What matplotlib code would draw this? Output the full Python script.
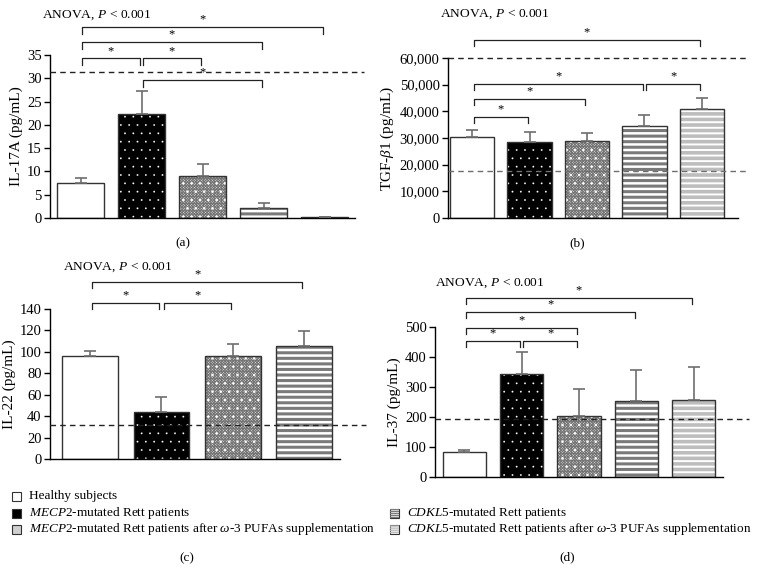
import numpy as np
import matplotlib
matplotlib.use('Agg')
import matplotlib.pyplot as plt
from matplotlib.patches import Rectangle
from matplotlib.ticker import FuncFormatter

plt.rcParams['font.family'] = ['Liberation Serif', 'DejaVu Serif']
plt.rcParams['mathtext.fontset'] = 'custom'
plt.rcParams['mathtext.rm'] = 'Liberation Serif'
plt.rcParams['mathtext.it'] = 'Liberation Serif:italic'
plt.rcParams['hatch.linewidth'] = 0.8

# data
groups = ['Healthy', 'MECP2', 'MECP2 + w3', 'CDKL5', 'CDKL5 + w3']

il17_mean = [7.45, 22.3, 9.0, 2.1, 0.2]
il17_err = [1.05, 5.0, 2.7, 1.05, 0.1]
il17_ref = [31.3]
il17_sig = [(0, 4, 41.0), (0, 3, 37.8), (0, 1, 34.3), (1, 2, 34.3), (1, 3, 29.6)]

tgf_mean = [30300, 28600, 29000, 34500, 41000]
tgf_err = [2800, 3700, 2700, 4100, 4100]
tgf_ref = [60000, 17500]
tgf_sig = [(0, 4, 66700), (0, 3, 50300), (3, 4, 50300), (0, 2, 44600), (0, 1, 37900)]

il22_groups = [0, 1, 2, 3]
il22_mean = [96, 44, 96, 105.5]
il22_err = [5, 14, 11.5, 14]
il22_ref = [32]
il22_sig = [(0, 3, 165), (0, 1, 145.6), (1, 2, 145.6)]

il37_mean = [82, 342, 205, 255, 258]
il37_err = [8, 75, 88, 103, 108]
il37_ref = [195]
il37_sig = [(0, 4, 597), (0, 3, 550), (0, 2, 497), (0, 1, 453), (1, 2, 453)]

legend_labels = [
    'Healthy subjects',
    r'$\it{MECP2}$-mutated Rett patients',
    r'$\it{MECP2}$-mutated Rett patients after $\it{\omega}$-3 PUFAs supplementation',
    r'$\it{CDKL5}$-mutated Rett patients',
    r'$\it{CDKL5}$-mutated Rett patients after $\it{\omega}$-3 PUFAs supplementation',
]

# style per group: face, hatch, hatch colour, hatch lw
styles = [
    dict(face='white', hatch=None, hc=None, hlw=0.8),
    dict(face='black', hatch='..', hc='white', hlw=0.1),
    dict(face='#ececec', hatch='xxxxxxxxxxxx', hc='#767676', hlw=0.75),
    dict(face='white', hatch='---', hc='#7a7a7a', hlw=2.2),
    dict(face='white', hatch='---', hc='#bdbdbd', hlw=2.6),
]

W, H = 757, 569
fig = plt.figure(figsize=(W / 100, H / 100), dpi=100)


def px_axes(left, top, right, bottom):
    return fig.add_axes([left / W, 1 - bottom / H, (right - left) / W, (bottom - top) / H])


def styled_patch(p, st):
    p.set_facecolor(st['face'])
    if st['hatch']:
        p.set_hatch(st['hatch'])
        p.set_edgecolor(st['hc'])
        if hasattr(p, 'set_hatch_linewidth'):
            p.set_hatch_linewidth(st['hlw'])


def draw_bars(ax, idx, means, errs, width):
    x = np.arange(len(means))
    for k, g in enumerate(idx):
        st = styles[g]
        ax.bar(x[k], means[k], width, color=st['face'], linewidth=0, zorder=2)
        if st['hatch']:
            h = ax.bar(x[k], means[k], width, linewidth=0, zorder=2.1)[0]
            styled_patch(h, st)
            h.set_facecolor('none')
            if g == 2:
                # white spots over the mesh
                d = ax.bar(x[k], means[k], width, facecolor='none', edgecolor='white',
                           hatch='..', linewidth=0, zorder=2.2)[0]
                if hasattr(d, 'set_hatch_linewidth'):
                    d.set_hatch_linewidth(0.6)
        ax.bar(x[k], means[k], width, facecolor='none', edgecolor='#333333',
               linewidth=1.0, zorder=2.3)
    ax.errorbar(x, means, yerr=[np.zeros(len(errs)), errs], fmt='none',
                ecolor='#6e6e6e', elinewidth=1.2, capsize=4, capthick=1.2, zorder=3)


def draw_sig(ax, sig, tick):
    for i, j, y in sig:
        a, b = i + 0.03, j - 0.03
        ax.plot([a, a, b, b], [y - tick, y, y, y - tick], color='#222222', lw=0.9,
                clip_on=False, zorder=4)
        ax.annotate('*', ((i + j) / 2, y), xytext=(0, 1), textcoords='offset points',
                    ha='center', va='bottom', fontsize=9, annotation_clip=False)


def draw_ref(ax, refs, ext, colors):
    for r, c in zip(refs, colors):
        ax.plot([0, ext], [r, r], transform=ax.get_yaxis_transform(), color=c, lw=1.0,
                dashes=(4, 3), clip_on=False, zorder=3.5)


def style_axes(ax, ylim, ticks, xlim):
    ax.set_ylim(*ylim)
    ax.set_xlim(*xlim)
    ax.set_yticks(ticks)
    ax.set_xticks([])
    for s in ['top', 'right']:
        ax.spines[s].set_visible(False)
    for s in ['left', 'bottom']:
        ax.spines[s].set_linewidth(1.0)
    ax.tick_params(axis='y', direction='out', length=4, width=1.0, labelsize=10.5, pad=2)
    ax.patch.set_alpha(0)


anova = r'ANOVA, $\it{P}$ < 0.001'

# (a) IL-17A
ax1 = px_axes(50, 55, 355, 218)
draw_bars(ax1, [0, 1, 2, 3, 4], il17_mean, il17_err, 0.77)
style_axes(ax1, (0, 35), np.arange(0, 36, 5), (-0.5, 4.5))
draw_ref(ax1, il17_ref, 1.03, ['#222222'])
draw_sig(ax1, il17_sig, 1.5)
ax1.set_ylabel('IL-17A (pg/mL)', fontsize=11, labelpad=3)
fig.text(42 / W, 1 - 15 / H, anova, fontsize=9.7, va='center')
fig.text(183 / W, 1 - 243 / H, '(a)', fontsize=9.5, ha='center', va='center')

# (b) TGF-beta1
ax2 = px_axes(448, 58, 738, 218)
draw_bars(ax2, [0, 1, 2, 3, 4], tgf_mean, tgf_err, 0.77)
style_axes(ax2, (0, 60000), np.arange(0, 60001, 10000), (-0.42, 4.63))
ax2.yaxis.set_major_formatter(FuncFormatter(lambda v, p: f'{int(v):,}'))
draw_ref(ax2, tgf_ref, 1.03, ['#222222', '#6e6e6e'])
draw_sig(ax2, tgf_sig, 2200)
ax2.set_ylabel(r'TGF-$\it{\beta}$1 (pg/mL)', fontsize=11, labelpad=3)
fig.text(440 / W, 1 - 14 / H, anova, fontsize=9.7, va='center')
fig.text(577 / W, 1 - 243 / H, '(b)', fontsize=9.5, ha='center', va='center')

# (c) IL-22
ax3 = px_axes(50, 309, 340, 459)
draw_bars(ax3, il22_groups, il22_mean, il22_err, 0.78)
style_axes(ax3, (0, 140), np.arange(0, 141, 20), (-0.56, 3.5))
draw_ref(ax3, il22_ref, 1.09, ['#222222'])
draw_sig(ax3, il22_sig, 5.5)
ax3.set_ylabel('IL-22 (pg/mL)', fontsize=11, labelpad=3)
fig.text(63 / W, 1 - 267 / H, anova, fontsize=9.7, va='center')
fig.text(187 / W, 1 - 558 / H, '(c)', fontsize=9.5, ha='center', va='center')

# (d) IL-37
ax4 = px_axes(435, 327, 723, 477)
draw_bars(ax4, [0, 1, 2, 3, 4], il37_mean, il37_err, 0.75)
style_axes(ax4, (0, 500), np.arange(0, 501, 100), (-0.51, 4.51))
draw_ref(ax4, il37_ref, 1.09, ['#222222'])
draw_sig(ax4, il37_sig, 20)
ax4.set_ylabel('IL-37 (pg/mL)', fontsize=11, labelpad=3)
fig.text(435 / W, 1 - 283 / H, anova, fontsize=9.7, va='center')
fig.text(567 / W, 1 - 557 / H, '(d)', fontsize=9.5, ha='center', va='center')

# legend
leg_pos = [(12, 496), (12, 513), (12, 529), (390, 513), (390, 529)]
for g, (lx, ly) in enumerate(leg_pos):
    st = styles[g]
    sq = Rectangle((lx / W, 1 - (ly + 4.5) / H), 9 / W, 9 / H, transform=fig.transFigure,
                   facecolor=st['face'], edgecolor='#333333', linewidth=0.8)
    fig.patches.append(sq)
    if g == 2:
        sq.set_facecolor('#cfcfcf')
    if g in (3, 4):
        hp = Rectangle((lx / W, 1 - (ly + 4.5) / H), 9 / W, 9 / H, transform=fig.transFigure,
                       facecolor='none', linewidth=0)
        styled_patch(hp, st)
        hp.set_facecolor('none')
        hp.set_hatch('--------')
        if hasattr(hp, 'set_hatch_linewidth'):
            hp.set_hatch_linewidth(1.0)
        fig.patches.append(hp)
    fig.text((lx + 17) / W, 1 - ly / H, legend_labels[g], fontsize=9.5, va='center')

fig.savefig('out.png', dpi=100)
